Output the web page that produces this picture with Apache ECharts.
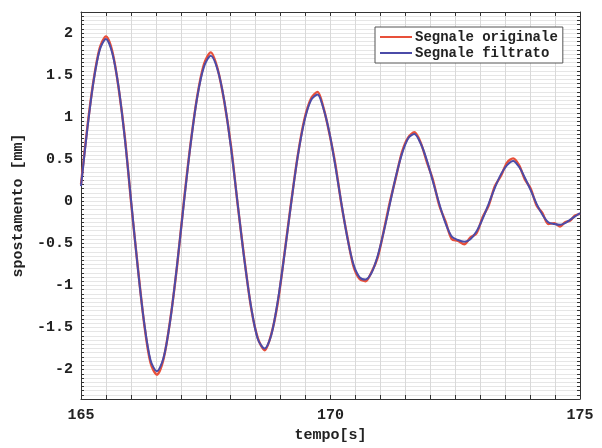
<!DOCTYPE html>
<html>
<head>
<meta charset="utf-8">
<script src="https://cdn.jsdelivr.net/npm/echarts@6/dist/echarts.min.js"></script>
<style>html,body{margin:0;padding:0;background:#fff}#c{width:602px;height:448px}</style>
</head>
<body>
<div id="c"></div>
<script>
// Time samples (s)
const tempo = [
  165.0, 165.125, 165.25, 165.375, 165.5,
  165.628, 165.755, 165.883, 166.01, 166.138, 166.265, 166.393, 166.52,
  166.655, 166.79, 166.925, 167.06, 167.195, 167.33, 167.465, 167.6,
  167.735, 167.87, 168.005, 168.14, 168.275, 168.41, 168.545, 168.68,
  168.813, 168.945, 169.078, 169.21, 169.343, 169.475, 169.608, 169.74,
  169.86, 169.98, 170.1, 170.22, 170.34, 170.46, 170.58, 170.7,
  170.823, 170.945, 171.068, 171.19, 171.313, 171.435, 171.558, 171.68,
  171.805, 171.93, 172.055, 172.18, 172.305, 172.43, 172.555, 172.68,
  172.803, 172.925, 173.048, 173.17, 173.293, 173.415, 173.538, 173.66,
  173.778, 173.895, 174.013, 174.13, 174.248, 174.365, 174.483, 174.6,
  174.7, 174.8, 174.9, 175.0
];
// Original signal (mm)
const segnaleOriginale = [
  0.20, 0.87, 1.43, 1.82, 1.96,
  1.78, 1.34, 0.74, -0.05, -0.78, -1.45, -1.92, -2.06,
  -1.87, -1.40, -0.77, -0.01, 0.68, 1.25, 1.63, 1.77,
  1.58, 1.19, 0.66, -0.04, -0.69, -1.27, -1.63, -1.77,
  -1.58, -1.20, -0.62, -0.02, 0.54, 0.97, 1.22, 1.30,
  1.11, 0.80, 0.43, -0.04, -0.43, -0.77, -0.92, -0.95,
  -0.84, -0.67, -0.35, -0.01, 0.29, 0.59, 0.76, 0.82,
  0.70, 0.47, 0.25, -0.05, -0.24, -0.45, -0.47, -0.51,
  -0.43, -0.38, -0.19, -0.05, 0.18, 0.30, 0.46, 0.51,
  0.43, 0.26, 0.15, -0.05, -0.14, -0.27, -0.26, -0.30,
  -0.25, -0.23, -0.17, -0.15
];
// Filtered signal (mm)
const segnaleFiltrato = [
  0.18, 0.85, 1.42, 1.80, 1.93,
  1.76, 1.35, 0.72, -0.03, -0.79, -1.44, -1.89, -2.02,
  -1.86, -1.41, -0.76, -0.03, 0.67, 1.24, 1.60, 1.73,
  1.57, 1.20, 0.64, -0.03, -0.70, -1.26, -1.64, -1.75,
  -1.59, -1.18, -0.63, -0.03, 0.53, 0.95, 1.20, 1.27,
  1.10, 0.81, 0.41, -0.03, -0.44, -0.75, -0.90, -0.93,
  -0.85, -0.65, -0.36, -0.03, 0.30, 0.57, 0.75, 0.80,
  0.69, 0.49, 0.23, -0.03, -0.26, -0.42, -0.46, -0.48,
  -0.45, -0.36, -0.21, -0.03, 0.16, 0.32, 0.43, 0.48,
  0.41, 0.28, 0.13, -0.03, -0.16, -0.25, -0.27, -0.28,
  -0.26, -0.22, -0.18, -0.14
];
const xTickLabels = [165, 170, 175];
const yTickLabels = [-2, -1.5, -1, -0.5, 0, 0.5, 1, 1.5, 2];
const seriesNames = ['Segnale originale', 'Segnale filtrato'];

const FONT = '"Liberation Mono", "DejaVu Sans Mono", monospace';
const chart = echarts.init(document.getElementById('c'), null, {renderer: 'canvas'});
const pair = (xs, ys) => xs.map((x, i) => [x, ys[i]]);
const axisLineStyle = {color: '#333', width: 1};

chart.setOption({
  animation: false,
  backgroundColor: '#fff',
  grid: {left: 81, right: 22, top: 12, bottom: 43, containLabel: false},
  legend: {
    orient: 'vertical', left: 375, top: 27,
    padding: [3, 5], itemGap: 2,
    itemWidth: 32, itemHeight: 2, icon: 'rect',
    backgroundColor: '#fff', borderColor: '#555', borderWidth: 1, borderRadius: 0,
    textStyle: {fontFamily: FONT, fontWeight: 'bold', fontSize: 14, color: '#222', padding: [0,0,0,-2]},
    data: seriesNames
  },
  xAxis: [{
    type: 'value', min: 165, max: 175, interval: 0.5,
    name: 'tempo[s]', nameLocation: 'middle', nameGap: 29,
    nameTextStyle: {fontFamily: FONT, fontWeight: 'bold', fontSize: 15, color: '#222'},
    axisLine: {show: true, onZero: false, lineStyle: axisLineStyle},
    axisTick: {show: true, inside: true, length: 4, lineStyle: axisLineStyle},
    axisLabel: {
      margin: 9, fontFamily: FONT, fontWeight: 'bold', fontSize: 15, color: '#222',
      formatter: v => xTickLabels.some(t => Math.abs(t - v) < 1e-6) ? String(Math.round(v)) : ''
    },
    splitLine: {show: true, lineStyle: {color: '#d9d9d9', width: 1}}
  }, {
    type: 'value', position: 'top', min: 165, max: 175, interval: 0.5,
    axisLine: {show: true, onZero: false, lineStyle: axisLineStyle},
    axisTick: {show: true, inside: true, length: 4, lineStyle: axisLineStyle},
    axisLabel: {show: false}, splitLine: {show: false}
  }],
  yAxis: [{
    type: 'value', min: -2.35, max: 2.25, interval: 0.05,
    name: 'spostamento [mm]', nameLocation: 'middle', nameGap: 49,
    nameTextStyle: {fontFamily: FONT, fontWeight: 'bold', fontSize: 15, color: '#222'},
    axisLine: {show: true, onZero: false, lineStyle: axisLineStyle},
    axisTick: {show: true, inside: true, length: 3, lineStyle: axisLineStyle},
    axisLabel: {
      margin: 8, fontFamily: FONT, fontWeight: 'bold', fontSize: 15, color: '#222',
      formatter: v => {
        const hit = yTickLabels.find(t => Math.abs(t - v) < 1e-6);
        return hit === undefined ? '' : String(hit);
      }
    },
    splitLine: {show: true, lineStyle: {color: '#e6e6e6', width: 1}}
  }, {
    type: 'value', position: 'right', min: -2.35, max: 2.25, interval: 0.05,
    axisLine: {show: true, onZero: false, lineStyle: axisLineStyle},
    axisTick: {show: true, inside: true, length: 3, lineStyle: axisLineStyle},
    axisLabel: {show: false}, splitLine: {show: false}
  }],
  series: [{
    name: seriesNames[0], type: 'line', xAxisIndex: 0, yAxisIndex: 0,
    data: pair(tempo, segnaleOriginale), smooth: 0.3, showSymbol: false, symbol: 'none',
    lineStyle: {color: '#e8503a', width: 2.4}, itemStyle: {color: '#e8503a'}, z: 2
  }, {
    name: seriesNames[1], type: 'line', xAxisIndex: 0, yAxisIndex: 0,
    data: pair(tempo, segnaleFiltrato), smooth: 0.3, showSymbol: false, symbol: 'none',
    lineStyle: {color: '#4b4ba8', width: 2}, itemStyle: {color: '#4b4ba8'}, z: 3
  }]
});
</script>
</body>
</html>
